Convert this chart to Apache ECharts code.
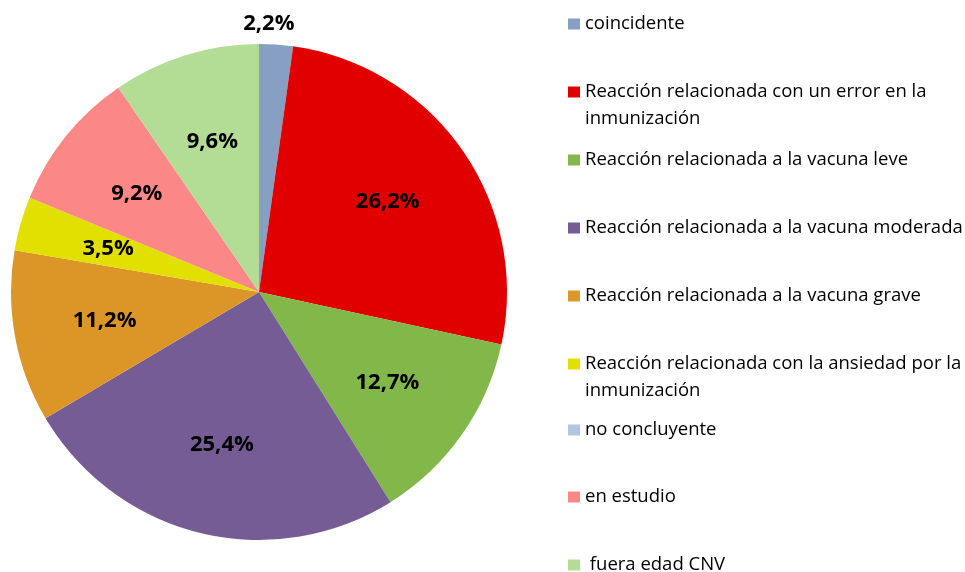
<!DOCTYPE html>
<html>
<head>
<meta charset="utf-8">
<script src="https://cdn.jsdelivr.net/npm/echarts@6/dist/echarts.min.js"></script>
<style>
  html, body { margin: 0; padding: 0; background: #fff; }
  #chart { width: 965px; height: 572px; }
</style>
</head>
<body>
<div id="chart"></div>
<script>
const categories = [
  "coincidente",
  "Reacción relacionada con un error en la inmunización",
  "Reacción relacionada a la vacuna leve",
  "Reacción relacionada a la vacuna moderada",
  "Reacción relacionada a la vacuna grave",
  "Reacción relacionada con la ansiedad por la inmunización",
  "no concluyente",
  "en estudio",
  " fuera edad CNV"
];
const shares = [2.2, 26.2, 12.7, 25.4, 11.2, 3.5, 0, 9.2, 9.6];
const colors = ["#869fc2", "#e00000", "#82b74a", "#755c95", "#dc9628", "#e2e000", "#b3c6e0", "#fc8787", "#b3dc95"];
// which labels sit outside the pie (too small for inside)
const outsideLabel = [true, false, false, false, false, false, false, false, false];

const chart = echarts.init(document.getElementById("chart"));

const CX = 259, CY = 292, R = 248;
const FONT = "'Open Sans', sans-serif";
const LH = 27;
const legendCenters = [24, 92, 160, 228, 296, 364, 430, 497, 565];

const fmt = v => v.toFixed(1).replace(".", ",") + "%";
// wrap long names like the original; a leading blank line keeps the icon on line one
const wrapName = n => n.indexOf(" la inmunización") >= 0 ? "\n" + n.replace(" la inmunización", " la\ninmunización") : n;

const pieData = categories.map((n, i) => ({ name: n, value: shares[i], itemStyle: { color: colors[i] } }));

const legends = categories.map((n, i) => {
  const twoLine = wrapName(n) !== n;
  return {
    data: [n],
    orient: "vertical",
    left: 568,
    top: legendCenters[i] - (twoLine ? 40.5 : 13.5),
    padding: 0,
    itemWidth: 12,
    itemHeight: 11,
    icon: "rect",
    selectedMode: false,
    formatter: wrapName,
    textStyle: { fontFamily: FONT, fontSize: 18.5, color: "#000", lineHeight: LH }
  };
});

const labelStyle = { fontFamily: FONT, fontSize: 22, fontWeight: "bold", color: "#000" };

chart.setOption({
  backgroundColor: "#fff",
  animation: false,
  legend: legends,
  series: [
    {
      type: "pie",
      center: [CX, CY],
      radius: R,
      startAngle: 90,
      clockwise: true,
      label: { show: false },
      labelLine: { show: false },
      itemStyle: { borderWidth: 0 },
      data: pieData
    },
    {
      // inside labels
      type: "pie",
      silent: true,
      center: [CX, CY],
      radius: [60, R],
      startAngle: 90,
      clockwise: true,
      itemStyle: { color: "transparent", borderWidth: 0 },
      labelLine: { show: false },
      label: Object.assign({ position: "inside", formatter: p => fmt(p.value) }, labelStyle),
      data: categories.map((n, i) => ({
        name: n, value: shares[i],
        label: { show: !outsideLabel[i] && shares[i] > 0 }
      }))
    },
    {
      // outside labels
      type: "pie",
      silent: true,
      center: [CX, CY],
      radius: [R, R + 44],
      startAngle: 90,
      clockwise: true,
      itemStyle: { color: "transparent", borderWidth: 0 },
      labelLine: { show: false },
      label: Object.assign({ position: "inside", offset: [-9, 4], formatter: p => fmt(p.value) }, labelStyle),
      data: categories.map((n, i) => ({
        name: n, value: shares[i],
        label: { show: outsideLabel[i] && shares[i] > 0 }
      }))
    }
  ]
});
</script>
</body>
</html>
